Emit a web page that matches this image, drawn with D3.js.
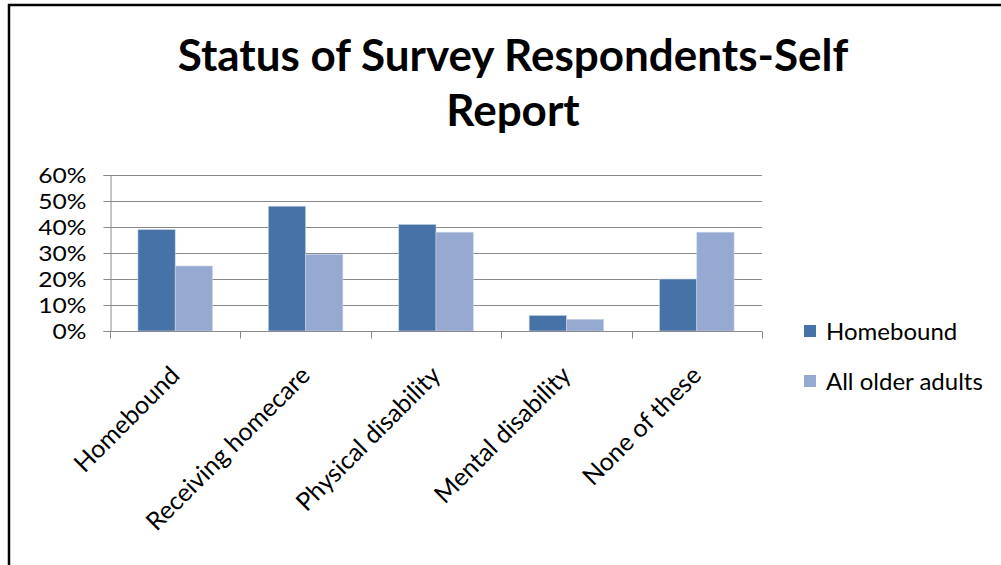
<!DOCTYPE html>
<html>
<head>
<meta charset="utf-8">
<script src="https://cdn.jsdelivr.net/npm/d3@7"></script>
<style>
  html, body { margin: 0; padding: 0; background: #fff; }
  svg { display: block; }
  text { font-family: Lato, "Open Sans", "Liberation Sans", sans-serif; fill: #000; }
</style>
</head>
<body>
<svg id="chart" width="1001" height="565"></svg>
<script>
// Survey categories and the share of respondents in each group
const categories = ["Homebound", "Receiving homecare", "Physical disability", "Mental disability", "None of these"];
const homebound = [0.39, 0.48, 0.41, 0.06, 0.20];
const allOlderAdults = [0.25, 0.295, 0.38, 0.045, 0.38];
const seriesNames = ["Homebound", "All older adults"];
const seriesColors = ["#4672A8", "#95A9D1"];
const yTicks = [0, 0.1, 0.2, 0.3, 0.4, 0.5, 0.6];
const titleLines = ["Status of Survey Respondents-Self", "Report"];

const svg = d3.select("#chart");

// Chart frame (only top and left edges fall inside the view)
svg.append("rect").attr("x", 9).attr("y", 5).attr("width", 1010).attr("height", 600)
  .attr("fill", "#fff").attr("stroke", "#000").attr("stroke-width", 2.5);

// Title
const title = svg.append("text").attr("text-anchor", "middle")
  .style("font-weight", "bold").style("font-size", "44px");
titleLines.forEach((t, i) => {
  title.append("tspan").attr("x", 513).attr("y", 71 + i * 55).text(t);
});

const plot = { left: 110, right: 762, top: 175, bottom: 331 };
const x0 = d3.scaleBand().domain(categories).range([plot.left, plot.right]).paddingInner(0).paddingOuter(0);
const y = d3.scaleLinear().domain([0, 0.6]).range([plot.bottom, plot.top]);
const barW = x0.bandwidth() / 3.5;  // 150% gap between clusters
const x1 = d3.scaleBand().domain(seriesNames).range([0, barW * 2]);

const g = svg.append("g");

// Horizontal gridlines
g.selectAll("line.grid").data(yTicks).join("line")
  .attr("class", "grid")
  .attr("x1", plot.left).attr("x2", plot.right)
  .attr("y1", d => Math.round(y(d)) + 0.5).attr("y2", d => Math.round(y(d)) + 0.5)
  .attr("stroke", "#8a8a8a").attr("stroke-width", 1);

// Bars
const series = [homebound, allOlderAdults];
series.forEach((vals, si) => {
  g.selectAll("rect.s" + si).data(vals).join("rect")
    .attr("class", "s" + si)
    .attr("x", (d, i) => x0(categories[i]) + (x0.bandwidth() - barW * 2) / 2 + x1(seriesNames[si]))
    .attr("y", d => y(d))
    .attr("width", barW)
    .attr("height", d => y(0) - y(d))
    .attr("fill", seriesColors[si])
    .attr("stroke", "#c9d3e6").attr("stroke-width", 0.6);
});

// Y axis (labels widened slightly so they stay within their row height)
const yAxis = d3.axisLeft(y).tickValues(yTicks).tickFormat(d3.format(".0%")).tickSize(7).tickPadding(17);
const ya = svg.append("g").attr("transform", `translate(${plot.left + 0.5},0)`).call(yAxis);
ya.select(".domain").attr("stroke", "#8a8a8a");
ya.selectAll(".tick line").attr("stroke", "#8a8a8a");
ya.selectAll(".tick text")
  .style("font-size", "21px").style("font-family", "Lato, sans-serif")
  .attr("fill", "#000").attr("dy", "0.36em")
  .each(function () {
    const len = this.getComputedTextLength();
    d3.select(this).attr("textLength", len * 1.17).attr("lengthAdjust", "spacingAndGlyphs");
  });

// X axis baseline with category dividers
const xa = svg.append("g").attr("transform", `translate(0,${Math.round(y(0)) + 0.5})`);
xa.append("line").attr("x1", plot.left).attr("x2", plot.right).attr("stroke", "#8a8a8a");
const bounds = categories.map(c => x0(c)).concat([plot.right]);
xa.selectAll("line.tk").data(bounds).join("line").attr("class", "tk")
  .attr("x1", d => Math.round(d) + 0.5).attr("x2", d => Math.round(d) + 0.5)
  .attr("y1", 0).attr("y2", 7).attr("stroke", "#8a8a8a");

// Rotated category labels
svg.append("g").selectAll("text").data(categories).join("text")
  .attr("text-anchor", "end")
  .style("font-size", "25px")
  .attr("transform", d => `translate(${x0(d) + x0.bandwidth() / 2 + 6},${plot.bottom + 46}) rotate(-45)`)
  .text(d => d);

// Legend
const lg = svg.append("g").attr("transform", "translate(804,0)");
seriesNames.forEach((name, i) => {
  const cy = 331 + i * 50;
  lg.append("rect").attr("x", 0).attr("y", cy - 6).attr("width", 12).attr("height", 12).attr("fill", seriesColors[i]);
  lg.append("text").attr("x", 22).attr("y", cy).attr("dy", "0.36em").style("font-size", "24px").text(name);
});
</script>
</body>
</html>
